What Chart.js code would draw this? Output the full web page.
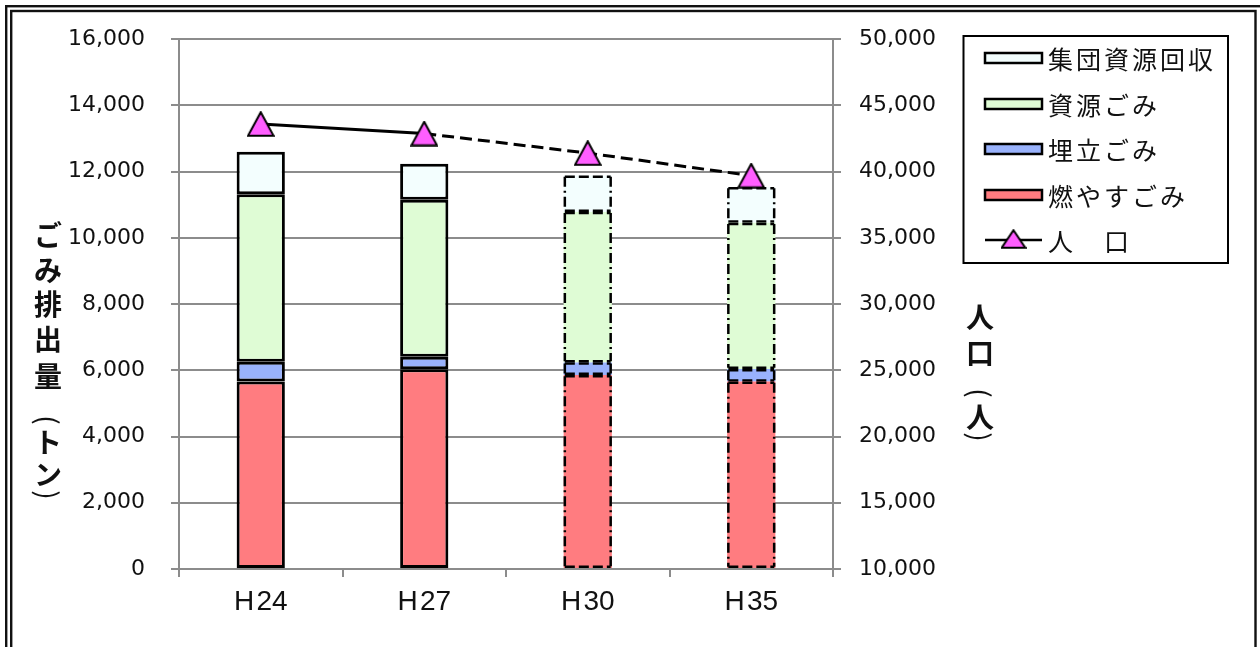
<!DOCTYPE html>
<html>
<head>
<meta charset="utf-8">
<script src="https://cdn.jsdelivr.net/npm/chart.js@4.4.1/dist/chart.umd.min.js"></script>
<style>
  html, body { margin: 0; padding: 0; background: #fff; }
  #wrap { position: relative; width: 1260px; height: 647px; }
  canvas { display: block; }
</style>
</head>
<body>
<div id="wrap"><canvas id="c" width="1260" height="647"></canvas></div>
<script>
// Fiscal years (Heisei)
const years = ['H\u200A24', 'H\u200A27', 'H\u200A30', 'H\u200A35'];
// Waste by type (tonnes)
const burnable = [5660, 6030, 5860, 5660];
const landfill = [600, 380, 380, 380];
const recyclable = [5060, 4745, 4545, 4415];
const groupCollection = [1280, 1080, 1100, 1080];
// Population (persons)
const population = [43600, 42880, 41400, 39700];
// Years that are projections (drawn with broken outlines)
const projected = [false, false, true, true];
// Axis tick values
const wasteTicks = [0, 2000, 4000, 6000, 8000, 10000, 12000, 14000, 16000];
const populationTicks = [10000, 15000, 20000, 25000, 30000, 35000, 40000, 45000, 50000];

const LABELS = {
  burnable: '燃やすごみ',
  landfill: '埋立ごみ',
  recyclable: '資源ごみ',
  group: '集団資源回収',
  population: '人\u3000口'
};
const COLORS = {
  burnable: '#FF7C80',
  landfill: '#99B2FC',
  recyclable: '#DFFCD5',
  group: '#F3FEFE',
  marker: '#FF5EFF'
};
const GRID = '#8c8c8c';
const TEXT = '#111';
const JP = '"Noto Sans CJK JP", "Noto Sans", sans-serif';

// Triangle marker, centred on its bounding box
function triangleImage(w, h) {
  const c = document.createElement('canvas');
  c.width = w; c.height = h;
  const g = c.getContext('2d');
  g.beginPath();
  g.moveTo(w / 2, 1.2);
  g.lineTo(w - 1.2, h - 1.2);
  g.lineTo(1.2, h - 1.2);
  g.closePath();
  g.fillStyle = COLORS.marker;
  g.fill();
  g.lineWidth = 2;
  g.strokeStyle = '#000';
  g.stroke();
  return c;
}
const marker = triangleImage(28, 26);
const legendMarker = triangleImage(26, 20);

const barBorder = ctx => (projected[ctx.dataIndex] ? 0 : 3);

function barSet(label, data, color) {
  return {
    type: 'bar', label, data,
    backgroundColor: color,
    borderColor: '#000',
    borderWidth: barBorder,
    borderSkipped: false,
    inflateAmount: 0,
    yAxisID: 'y',
    stack: 'waste',
    order: 2,
    barPercentage: 0.295,
    categoryPercentage: 1.0
  };
}

// Broken outline for projected bars
const projectedOutline = {
  id: 'projectedOutline',
  afterDatasetDraw(chart, args) {
    const meta = args.meta;
    if (meta.type !== 'bar') return;
    const ctx = chart.ctx;
    ctx.save();
    ctx.strokeStyle = '#000';
    ctx.lineWidth = 2.5;
    meta.data.forEach((el, i) => {
      if (!projected[i]) return;
      const p = el.getProps(['x', 'y', 'base', 'width'], true);
      const l = p.x - p.width / 2 + 1.2, r = p.x + p.width / 2 - 1.2;
      const t = Math.min(p.y, p.base) + 1.2, b = Math.max(p.y, p.base) - 1.2;
      ctx.setLineDash([10, 4]);
      ctx.beginPath();
      ctx.moveTo(l, t); ctx.lineTo(r, t);
      ctx.moveTo(l, b); ctx.lineTo(r, b);
      ctx.stroke();
      ctx.setLineDash([10, 4, 2, 4]);
      ctx.beginPath();
      ctx.moveTo(l, t); ctx.lineTo(l, b);
      ctx.moveTo(r, t); ctx.lineTo(r, b);
      ctx.stroke();
    });
    ctx.restore();
  }
};

// Background, frame, axis titles and legend
const decorations = {
  id: 'decorations',
  beforeDraw(chart) {
    const ctx = chart.ctx;
    ctx.save();
    ctx.fillStyle = '#fff';
    ctx.fillRect(0, 0, chart.width, chart.height);
    ctx.restore();
  },
  afterDraw(chart) {
    const ctx = chart.ctx;
    ctx.save();
    // double frame
    ctx.strokeStyle = '#111';
    ctx.lineWidth = 2.4;
    ctx.strokeRect(6.2, 6.2, 1262, 660);
    ctx.strokeRect(11.2, 11, 1244.3, 660);

    // vertical axis titles
    ctx.fillStyle = TEXT;
    ctx.font = 'bold 28px ' + JP;
    ctx.textAlign = 'center';
    ctx.textBaseline = 'middle';
    const drawStacked = (text, x, ys) => {
      [...text].forEach((ch, i) => {
        const y = ys[i];
        if (ch === '(' || ch === ')') {
          ctx.save();
          ctx.translate(x, y);
          ctx.rotate(Math.PI / 2);
          ctx.font = '28px ' + JP;
          ctx.fillText(ch, 0, 0);
          ctx.restore();
        } else {
          ctx.fillText(ch, x, y);
        }
      });
    };
    drawStacked('ごみ排出量(トン)', 48, [235, 270, 304, 339, 376, 420, 442, 474, 495]);
    drawStacked('人口(人)', 980, [317, 353, 393, 417, 437]);

    // legend
    const box = { l: 963.5, t: 36, r: 1228, b: 263 };
    ctx.strokeStyle = '#000';
    ctx.lineWidth = 2;
    ctx.strokeRect(box.l, box.t, box.r - box.l, box.b - box.t);
    const ds = chart.data.datasets;
    const items = [ds[3], ds[2], ds[1], ds[0], ds[4]];
    const rowY = [58, 104, 149, 195, 240];
    const sx = 985, sw = 57, tx = 1048;
    ctx.font = '25px ' + JP;
    ctx.textAlign = 'left';
    ctx.textBaseline = 'middle';
    if ('letterSpacing' in ctx) ctx.letterSpacing = '3px';
    items.forEach((d, i) => {
      const y = rowY[i];
      if (d.type === 'bar') {
        ctx.fillStyle = d.backgroundColor;
        ctx.fillRect(sx, y - 5, sw, 10);
        ctx.lineWidth = 2.5;
        ctx.strokeStyle = '#000';
        ctx.strokeRect(sx, y - 5, sw, 10);
      } else {
        ctx.lineWidth = 2.5;
        ctx.strokeStyle = '#000';
        ctx.beginPath();
        ctx.moveTo(sx, y); ctx.lineTo(sx + sw, y);
        ctx.stroke();
        ctx.drawImage(legendMarker, sx + sw / 2 - 13, y - 11);
      }
      ctx.fillStyle = TEXT;
      ctx.fillText(d.label, tx, y + 1);
    });
    ctx.restore();
  }
};

const tickFont = { family: '"DejaVu Sans", sans-serif', size: 22 };
const fmt = v => Number(v).toLocaleString('en-US');

new Chart(document.getElementById('c'), {
  data: {
    labels: years,
    datasets: [
      barSet(LABELS.burnable, burnable, COLORS.burnable),
      barSet(LABELS.landfill, landfill, COLORS.landfill),
      barSet(LABELS.recyclable, recyclable, COLORS.recyclable),
      barSet(LABELS.group, groupCollection, COLORS.group),
      {
        type: 'line',
        label: LABELS.population,
        data: population,
        yAxisID: 'y2',
        order: 1,
        borderColor: '#000',
        borderWidth: 3,
        pointStyle: marker,
        pointRadius: 13,
        backgroundColor: COLORS.marker,
        segment: {
          borderDash: ctx => (ctx.p0DataIndex >= 1 ? [12, 6] : undefined)
        }
      }
    ]
  },
  options: {
    responsive: false,
    animation: false,
    devicePixelRatio: 1,
    layout: { padding: { top: 35, left: 0, right: 0, bottom: 0 } },
    plugins: { legend: { display: false }, tooltip: { enabled: false } },
    scales: {
      x: {
        stacked: true,
        offset: true,
        grid: { offset: true, drawOnChartArea: false, color: GRID, lineWidth: 2, tickLength: 8 },
        border: { color: GRID, width: 2 },
        ticks: { color: TEXT, padding: 8, font: { family: '"Liberation Sans", Arial, sans-serif', size: 28 } },
        afterFit: s => { s.height = 78; }
      },
      y: {
        position: 'left',
        stacked: true,
        min: 0, max: 16000,
        afterBuildTicks: s => { s.ticks = wasteTicks.map(v => ({ value: v })); },
        grid: { color: GRID, lineWidth: 2, tickLength: 8 },
        border: { color: GRID, width: 2 },
        ticks: { color: TEXT, padding: 26, font: tickFont, callback: fmt },
        afterFit: s => { s.width = 179; }
      },
      y2: {
        position: 'right',
        min: 10000, max: 50000,
        afterBuildTicks: s => { s.ticks = populationTicks.map(v => ({ value: v })); },
        grid: { drawOnChartArea: false, color: GRID, lineWidth: 2, tickLength: 8 },
        border: { color: GRID, width: 2 },
        ticks: { color: TEXT, padding: 18, font: tickFont, callback: fmt },
        afterFit: s => { s.width = 427; }
      }
    }
  },
  plugins: [projectedOutline, decorations]
});
</script>
</body>
</html>
